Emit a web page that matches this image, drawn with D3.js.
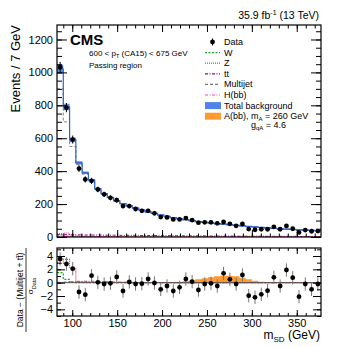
<!DOCTYPE html>
<html>
<head>
<meta charset="utf-8">
<script src="https://cdn.jsdelivr.net/npm/d3@7"></script>
<style>
  body { margin: 0; background: #fff; }
  text { font-family: "Liberation Sans", Arial, sans-serif; fill: #000; }
</style>
</head>
<body>
<svg class="chart"></svg>
<script>
let width = 357,
  height = 347;

// binning: 7 GeV bins starting at 83 GeV
let massMin = 83,
  binWidth = 7;

// top panel (events per bin)
let dataCounts = [1032, 786, 592, 416, 350, 341, 289, 259, 238, 224, 188, 188, 170, 159, 159, 144, 121, 119, 107, 107, 115, 103, 87, 89, 89, 83, 91, 80, 68, 79, 48, 44, 47, 47, 62, 47, 67, 50, 28, 42, 35, 36];
let totalBkg = [1020, 790, 590, 450, 390, 345, 292, 263, 240, 220, 203, 189, 176, 164, 153, 143, 134, 126, 118, 111, 105, 99, 94, 89, 85, 81, 78, 75, 71, 68, 64, 61, 58, 55, 53, 50, 48, 46, 44, 42, 40, 38];
let totalBkgUnc = [26, 20, 14, 10, 8, 7, 6, 5, 5, 5, 4, 4, 4, 4, 4, 3, 3, 3, 3, 3, 3, 3, 3, 3, 3, 3, 3, 3, 3, 3, 3, 3, 3, 3, 3, 3, 3, 3, 3, 3, 3, 3];
let multijet = [900, 700, 550, 440, 382, 335, 288, 260, 237, 218, 201, 187, 174, 162, 151, 141, 132, 124, 116, 109, 103, 97, 92, 87, 83, 79, 76, 73, 69, 66, 62, 59, 56, 53, 51, 48, 46, 44, 42, 40, 38, 36];
let wJets = [12, 5, 1.5, 1, 0.5, 0.3, 0.2, 0.1, 0, 0, 0, 0, 0, 0, 0, 0, 0, 0, 0, 0, 0, 0, 0, 0, 0, 0, 0, 0, 0, 0, 0, 0, 0, 0, 0, 0, 0, 0, 0, 0, 0, 0];
let zJets = [20, 24, 13, 4, 2, 1.5, 1, 1, 0.5, 0.5, 0.3, 0.2, 0.1, 0, 0, 0, 0, 0, 0, 0, 0, 0, 0, 0, 0, 0, 0, 0, 0, 0, 0, 0, 0, 0, 0, 0, 0, 0, 0, 0, 0, 0];
let ttbar = [14, 14, 13, 13, 12, 12, 12, 11, 11, 11, 10, 10, 10, 9, 9, 9, 8, 8, 8, 8, 7, 7, 7, 7, 6, 6, 6, 6, 5, 5, 5, 5, 5, 4, 4, 4, 4, 4, 3, 3, 3, 3];
let hbb = [2, 3, 5, 6, 5, 4, 3, 2, 1, 1, 0.5, 0.5, 0.3, 0, 0, 0, 0, 0, 0, 0, 0, 0, 0, 0, 0, 0, 0, 0, 0, 0, 0, 0, 0, 0, 0, 0, 0, 0, 0, 0, 0, 0];

// bottom panel, in units of sigma_data
let pull = [3.55, 2.8, 2.1, -1.4, -1.8, 1.05, 0.05, -0.2, -0.1, 0.85, -1.25, 0.1, -0.2, -0.15, 0.55, -0.05, -1.0, -0.5, -1.25, -0.7, 0.55, 0.15, -1.1, -0.2, -0.1, -0.5, 1.4, 0.5, -0.2, 1.15, -1.95, -2.2, -1.75, -1.2, 0.8, -0.5, 1.9, 0.75, -2.1, -0.2, -1.0, -0.2];
let zPull = [2.9, 3.5, 2.2, 0.15, 0.12, 0.1, 0.1, 0.1, 0.08, 0.05, 0.03, 0, 0, 0, 0, 0, 0, 0, 0, 0, 0, 0, 0, 0, 0, 0, 0, 0, 0, 0, 0, 0, 0, 0, 0, 0, 0, 0, 0, 0, 0, 0];
let wPull = [1.5, 0.5, 0.05, 0, 0, 0, 0, 0, 0, 0, 0, 0, 0, 0, 0, 0, 0, 0, 0, 0, 0, 0, 0, 0, 0, 0, 0, 0, 0, 0, 0, 0, 0, 0, 0, 0, 0, 0, 0, 0, 0, 0];
let hPull = [0.05, 0.1, 0.15, 0.2, 0.2, 0.2, 0.15, 0.15, 0.12, 0.1, 0.06, 0.03, 0, 0, 0, 0, 0, 0, 0, 0, 0, 0, 0, 0, 0, 0, 0, 0, 0, 0, 0, 0, 0, 0, 0, 0, 0, 0, 0, 0, 0, 0];
let signalPull = [0, 0, 0, 0, 0, 0, 0, 0, 0, 0, 0, 0, 0, 0, 0, 0, 0, 0.02, 0.05, 0.1, 0.2, 0.35, 0.5, 0.65, 0.8, 0.95, 1.05, 1.05, 0.95, 0.75, 0.5, 0.3, 0.15, 0.07, 0.03, 0, 0, 0, 0, 0, 0, 0];

let xTicks = [100, 150, 200, 250, 300, 350];
let yTicksTop = [0, 200, 400, 600, 800, 1000, 1200];
let yTicksBottom = [-4, -2, 0, 2, 4];

let edges = d3.range(dataCounts.length + 1).map((i) => massMin + binWidth * i);
let centers = dataCounts.map((d, i) => massMin + binWidth * (i + 0.5));

let frame = { left: 57, right: 321, top: 25, bottom: 237, rTop: 248, rBottom: 316 };

let svg = d3.select(".chart").attr("width", width).attr("height", height);

let x = d3.scaleLinear().domain([massMin, edges[edges.length - 1]]).range([frame.left, frame.right]);
let y = d3.scaleLinear().domain([0, 1288]).range([frame.bottom, frame.top]);
let yr = d3.scaleLinear().domain([-5, 5.2]).range([frame.rBottom, frame.rTop]);

svg.append("clipPath").attr("id", "clipTop").append("rect")
  .attr("x", frame.left).attr("y", frame.top)
  .attr("width", frame.right - frame.left).attr("height", frame.bottom - frame.top);
svg.append("clipPath").attr("id", "clipBot").append("rect")
  .attr("x", frame.left).attr("y", frame.rTop)
  .attr("width", frame.right - frame.left).attr("height", frame.rBottom - frame.rTop);

// step path points for a binned series
function stepPoints(vals) {
  let pts = [];
  vals.forEach(function (v, i) {
    pts.push({ x: edges[i], v: v, i: i });
    pts.push({ x: edges[i + 1], v: v, i: i });
  });
  return pts;
}

let topG = svg.append("g").attr("clip-path", "url(#clipTop)");
let botG = svg.append("g").attr("clip-path", "url(#clipBot)");

// ---- top panel ----
let band = d3.area()
  .x((d) => x(d.x))
  .y0((d) => y(d.v - totalBkgUnc[d.i]))
  .y1((d) => y(d.v + totalBkgUnc[d.i]));
topG.append("path").datum(stepPoints(totalBkg))
  .attr("d", band).attr("fill", "#4f83ea").attr("opacity", 0.9);

let lineTop = d3.line().x((d) => x(d.x)).y((d) => y(d.v));

let components = [
  { vals: multijet, color: "#777", dash: "3,2", w: 0.9 },
  { vals: wJets, color: "#1fa31f", dash: "2,1.5", w: 1 },
  { vals: zJets, color: "#ff3030", dash: "1,1", w: 1 },
  { vals: ttbar, color: "#8b0a8b", dash: "3,1.5,1,1.5", w: 1 },
  { vals: hbb, color: "#ff3dd2", dash: "3,1.5,1,1.5", w: 1 },
];
components.forEach(function (c) {
  topG.append("path").datum(stepPoints(c.vals))
    .attr("d", lineTop).attr("fill", "none")
    .attr("stroke", c.color).attr("stroke-width", c.w).attr("stroke-dasharray", c.dash);
});

topG.append("path").datum(stepPoints(totalBkg))
  .attr("d", lineTop).attr("fill", "none")
  .attr("stroke", "#2f62d0").attr("stroke-width", 1.2);

// data points with sqrt(N) errors
topG.selectAll(".err").data(dataCounts).enter().append("line")
  .attr("x1", (d, i) => x(centers[i])).attr("x2", (d, i) => x(centers[i]))
  .attr("y1", (d) => y(d - Math.sqrt(d))).attr("y2", (d) => y(d + Math.sqrt(d)))
  .attr("stroke", "#000").attr("stroke-width", 1);
topG.selectAll(".pt").data(dataCounts).enter().append("circle")
  .attr("cx", (d, i) => x(centers[i])).attr("cy", (d) => y(d))
  .attr("r", 2.4).attr("fill", "#000");

// ---- bottom panel ----
let areaBot = d3.area().x((d) => x(d.x)).y0(yr(0)).y1((d) => yr(d.v));
botG.append("path").datum(stepPoints(signalPull))
  .attr("d", areaBot).attr("fill", "#fd9a32");

let lineBot = d3.line().x((d) => x(d.x)).y((d) => yr(d.v));
[
  { vals: hPull, color: "#ff3dd2", dash: "3,1.5,1,1.5" },
  { vals: wPull, color: "#1fa31f", dash: "2,1.5" },
  { vals: zPull, color: "#ff3030", dash: "1,1" },
].forEach(function (c) {
  botG.append("path").datum(stepPoints(c.vals))
    .attr("d", lineBot).attr("fill", "none")
    .attr("stroke", c.color).attr("stroke-width", 1.2).attr("stroke-dasharray", c.dash);
});

botG.append("line")
  .attr("x1", frame.left).attr("x2", frame.right)
  .attr("y1", yr(0)).attr("y2", yr(0))
  .attr("stroke", "#555").attr("stroke-width", 1);

botG.selectAll(".rerr").data(pull).enter().append("line")
  .attr("x1", (d, i) => x(centers[i])).attr("x2", (d, i) => x(centers[i]))
  .attr("y1", (d) => yr(d - 1)).attr("y2", (d) => yr(d + 1))
  .attr("stroke", "#777").attr("stroke-width", 1);
botG.selectAll(".rpt").data(pull).enter().append("circle")
  .attr("cx", (d, i) => x(centers[i])).attr("cy", (d) => yr(d))
  .attr("r", 2.4).attr("fill", "#000");

// ---- axes (ticks inside the frame, ROOT style) ----
function drawAxis(axis, tx, ty, showLabels, fontSize) {
  let g = svg.append("g").attr("transform", "translate(" + tx + "," + ty + ")").call(axis);
  g.select(".domain").remove();
  g.selectAll(".tick line").attr("stroke", "#000").attr("stroke-width", 1);
  if (!showLabels) g.selectAll(".tick text").remove();
  else g.selectAll(".tick text").attr("font-size", fontSize).attr("font-family", "Liberation Sans, Arial, sans-serif");
  return g;
}
let fmt = (d) => (d < 0 ? "\u2212" + Math.abs(d) : String(d));
let xMinor = d3.range(90, 380, 10);

// top panel
drawAxis(d3.axisLeft(y).tickValues(yTicksTop).tickSize(-10).tickPadding(4).tickFormat(fmt), frame.left, 0, true, 11);
drawAxis(d3.axisLeft(y).tickValues(d3.range(0, 1290, 50)).tickSize(-5), frame.left, 0, false);
drawAxis(d3.axisRight(y).tickValues(yTicksTop).tickSize(-10), frame.right, 0, false);
drawAxis(d3.axisRight(y).tickValues(d3.range(0, 1290, 50)).tickSize(-5), frame.right, 0, false);
drawAxis(d3.axisBottom(x).tickValues(xTicks).tickSize(-7), 0, frame.bottom, false);
drawAxis(d3.axisBottom(x).tickValues(xMinor).tickSize(-3.5), 0, frame.bottom, false);
drawAxis(d3.axisTop(x).tickValues(xTicks).tickSize(-7), 0, frame.top, false);
drawAxis(d3.axisTop(x).tickValues(xMinor).tickSize(-3.5), 0, frame.top, false);

// bottom panel
drawAxis(d3.axisLeft(yr).tickValues(yTicksBottom).tickSize(-8).tickPadding(4).tickFormat(fmt), frame.left, 0, true, 11);
drawAxis(d3.axisLeft(yr).tickValues(d3.range(-5, 6, 1)).tickSize(-4), frame.left, 0, false);
drawAxis(d3.axisRight(yr).tickValues(yTicksBottom).tickSize(-8), frame.right, 0, false);
drawAxis(d3.axisRight(yr).tickValues(d3.range(-5, 6, 1)).tickSize(-4), frame.right, 0, false);
drawAxis(d3.axisBottom(x).tickValues(xTicks).tickSize(-6).tickPadding(3), 0, frame.rBottom, true, 11);
drawAxis(d3.axisBottom(x).tickValues(xMinor).tickSize(-3), 0, frame.rBottom, false);
drawAxis(d3.axisTop(x).tickValues(xTicks).tickSize(-6), 0, frame.rTop, false);
drawAxis(d3.axisTop(x).tickValues(xMinor).tickSize(-3), 0, frame.rTop, false);

// frames
[[frame.top, frame.bottom], [frame.rTop, frame.rBottom]].forEach(function (f) {
  svg.append("rect")
    .attr("x", frame.left).attr("y", f[0])
    .attr("width", frame.right - frame.left).attr("height", f[1] - f[0])
    .attr("fill", "none").attr("stroke", "#000").attr("stroke-width", 1.2);
});

// ---- texts ----
svg.append("text").attr("x", 70).attr("y", 45)
  .attr("font-size", 15).attr("font-weight", "bold").text("CMS");

let ptText = svg.append("text").attr("x", 89).attr("y", 56).attr("font-size", 8);
ptText.append("tspan").text("600 < p");
ptText.append("tspan").attr("dy", 2).attr("font-size", 5.5).text("T");
ptText.append("tspan").attr("dy", -2).text(" (CA15) < 675 GeV");
svg.append("text").attr("x", 89).attr("y", 68).attr("font-size", 8).text("Passing region");

let lumi = svg.append("text").attr("x", 319).attr("y", 19).attr("text-anchor", "end").attr("font-size", 10.5);
lumi.append("tspan").text("35.9 fb");
lumi.append("tspan").attr("dy", -4).attr("font-size", 7).text("-1");
lumi.append("tspan").attr("dy", 4).text(" (13 TeV)");

svg.append("text")
  .attr("transform", "translate(20," + frame.top + ") rotate(-90)")
  .attr("text-anchor", "end").attr("font-size", 13).text("Events / 7 GeV");

let xl = svg.append("text").attr("x", 320).attr("y", 339).attr("text-anchor", "end").attr("font-size", 12);
xl.append("tspan").text("m");
xl.append("tspan").attr("dy", 3).attr("font-size", 8).text("SD");
xl.append("tspan").attr("dy", -3).text(" (GeV)");

// ratio y title as a fraction
svg.append("text")
  .attr("transform", "translate(23,290) rotate(-90)")
  .attr("text-anchor", "middle").attr("font-size", 8.5).text("Data \u2212 (Multijet + tt\u0304)");
svg.append("line").attr("x1", 26).attr("x2", 26).attr("y1", 248).attr("y2", 332)
  .attr("stroke", "#000").attr("stroke-width", 0.8);
let den = svg.append("text")
  .attr("transform", "translate(33,286) rotate(-90)")
  .attr("text-anchor", "middle").attr("font-size", 8);
den.append("tspan").text("\u03c3");
den.append("tspan").attr("dy", 2.5).attr("font-size", 5.5).text("Data");

// ---- legend ----
let legend = svg.append("g");
let legX = 205, legW = 15, textX = 224, legY0 = 42, legDy = 10.6;
let entries = [
  { label: "Data", kind: "data" },
  { label: "W", kind: "line", color: "#1fa31f", dash: "2,1.5" },
  { label: "Z", kind: "line", color: "#ff3030", dash: "1,1" },
  { label: "tt", kind: "line", color: "#8b0a8b", dash: "3,1.5,1,1.5" },
  { label: "Multijet", kind: "line", color: "#777", dash: "3,2" },
  { label: "H(bb)", kind: "line", color: "#ff3dd2", dash: "3,1.5,1,1.5" },
  { label: "Total background", kind: "box", color: "#4f83ea" },
  { label: "A(bb)", kind: "box", color: "#fd9a32" },
];
entries.forEach(function (e, i) {
  let cy = legY0 + i * legDy;
  if (e.kind === "data") {
    legend.append("line").attr("x1", legX + legW / 2).attr("x2", legX + legW / 2)
      .attr("y1", cy - 3.5).attr("y2", cy + 3.5).attr("stroke", "#000");
    legend.append("circle").attr("cx", legX + legW / 2).attr("cy", cy).attr("r", 2.4).attr("fill", "#000");
  } else if (e.kind === "line") {
    legend.append("line").attr("x1", legX).attr("x2", legX + legW).attr("y1", cy).attr("y2", cy)
      .attr("stroke", e.color).attr("stroke-width", 1.2).attr("stroke-dasharray", e.dash);
  } else {
    legend.append("rect").attr("x", legX).attr("y", cy - 3.5).attr("width", legW + 1).attr("height", 7)
      .attr("fill", e.color);
  }
  let t = legend.append("text").attr("x", textX).attr("y", cy + 3).attr("font-size", 9);
  if (e.label === "A(bb)") {
    t.append("tspan").text("A(bb), m");
    t.append("tspan").attr("dy", 2).attr("font-size", 6).text("A");
    t.append("tspan").attr("dy", -2).text(" = 260 GeV");
  } else {
    t.text(e.label);
  }
});
let gq = legend.append("text").attr("x", 251).attr("y", legY0 + 8 * legDy + 1).attr("font-size", 9);
gq.append("tspan").text("g");
gq.append("tspan").attr("dy", 2).attr("font-size", 6).text("qA");
gq.append("tspan").attr("dy", -2).text(" = 4.6");
</script>
</body>
</html>
